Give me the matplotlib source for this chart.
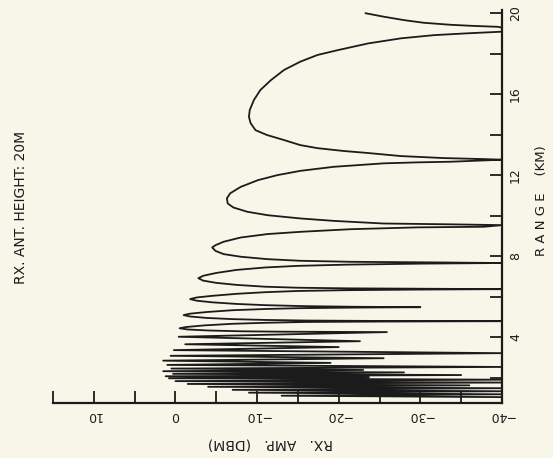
import matplotlib
matplotlib.use("Agg")
import matplotlib.pyplot as plt

# ---------------- data ----------------
# traced outline of the wide lobes, range in km, amplitude in dBm (top of chart downward)
trace_range = [19.99, 19.82, 19.65, 19.52, 19.42, 19.37, 19.32, 19.28,
               19.08, 19.0, 18.91, 18.75, 18.50, 18.17, 17.93, 17.60, 17.19, 16.69, 16.20,
               15.70, 15.21, 14.88, 14.57, 14.22, 13.98, 13.73, 13.48, 13.33, 13.19,
               13.09, 12.94, 12.84, 12.79, 12.76,
               12.66, 12.63, 12.58, 12.41, 12.21, 12.0, 11.75, 11.42, 11.10, 10.85,
               10.60, 10.40, 10.19, 10.02, 9.86, 9.74, 9.61, 9.57, 9.53,
               9.45, 9.42, 9.33, 9.20, 9.09, 8.92, 8.71, 8.54, 8.43, 8.26,
               8.10, 7.97, 7.85, 7.77, 7.72, 7.69, 7.66,
               7.63, 7.58, 7.52, 7.44, 7.32, 7.17, 7.03, 6.91, 6.79, 6.68,
               6.58, 6.49, 6.44, 6.41, 6.39, 6.37,
               6.35, 6.32, 6.28, 6.22, 6.14, 6.04, 5.96, 5.88, 5.80, 5.72,
               5.64, 5.58, 5.53, 5.50, 5.48,
               5.46, 5.43, 5.39, 5.33, 5.24, 5.16, 5.09, 5.02, 4.95, 4.89,
               4.85, 4.82, 4.80, 4.79,
               4.77, 4.75, 4.71, 4.66, 4.58, 4.50, 4.44, 4.38, 4.33, 4.29,
               4.27, 4.26, 4.25]
trace_amp = [-23.3, -25.5, -28.0, -30.4, -33.7, -36.2, -39.5, -40.0,
             -40.0, -35.8, -31.7, -27.6, -23.6, -19.9, -17.4, -15.3, -13.3, -11.7, -10.4,
             -9.6, -9.1, -9.0, -9.2, -9.8, -11.2, -13.3, -15.3, -17.4, -20.6,
             -23.6, -27.6, -32.9, -37.8, -40.0,
             -33.7, -29.7, -25.5, -19.4, -15.3, -12.5, -10.1, -8.0, -6.7, -6.3,
             -6.4, -7.1, -8.8, -11.3, -15.3, -19.4, -25.5, -33.7, -40.0,
             -37.8, -29.7, -21.5, -15.3, -11.3, -8.0, -5.9, -4.9, -4.5, -4.9,
             -5.9, -8.0, -11.3, -15.3, -21.5, -31.7, -40.0,
             -30.0, -21.0, -15.0, -11.0, -7.5, -5.0, -3.4, -2.8, -3.4, -5.0,
             -7.5, -11.0, -15.0, -21.0, -30.0, -40.0,
             -30.0, -21.0, -15.0, -11.0, -7.5, -4.5, -2.6, -1.8, -2.6, -4.5,
             -7.5, -11.0, -16.0, -22.0, -30.0,
             -22.0, -15.0, -11.0, -7.0, -3.8, -1.8, -1.0, -1.8, -3.8, -7.0,
             -11.0, -16.0, -25.0, -40.0,
             -25.0, -16.0, -11.0, -7.0, -3.5, -1.3, -0.5, -1.5, -4.0, -8.0,
             -13.0, -19.0, -25.9]

# dense part near the transmitter: lobe peaks and the nulls that follow them
peak_range = [4.02, 3.65, 3.36, 3.08, 2.84, 2.63, 2.45, 2.32, 2.19, 2.07,
              1.97, 1.83, 1.69, 1.55, 1.40, 1.26, 1.11]
peak_amp = [-0.4, -1.2, 0.2, 0.6, 1.5, 1.0, 0.5, 1.5, 0.3, 1.2,
            0.8, 0.0, -1.5, -4.0, -7.0, -9.0, -13.0]
null_range = [3.80, 3.51, 3.21, 2.96, 2.73, 2.53, 2.38, 2.26, 2.13, 2.02,
              1.90, 1.76, 1.62, 1.48, 1.33, 1.18, 1.04]
null_amp = [-22.6, -20.0, -40.0, -25.5, -19.0, -40.0, -23.0, -28.0, -35.0, -23.7,
            -40.0, -40.0, -36.0, -40.0, -40.0, -40.0, -40.0]

amp_ticks = [15, 10, 5, 0, -5, -10, -15, -20, -25, -30, -35, -40]
amp_labels = ["", "10", "", "0", "", "\u221210", "", "\u221220", "", "\u221230", "", "\u221240"]
range_ticks = [2, 4, 6, 8, 10, 12, 14, 16, 18, 20]
range_labels = ["", "4", "", "8", "", "12", "", "16", "", "20"]

# ---------------- assemble the curve ----------------
curve_r = list(trace_range)
curve_a = list(trace_amp)
for pr, pa, nr, na in zip(peak_range, peak_amp, null_range, null_amp):
    curve_r += [pr, nr]
    curve_a += [pa, na]

# ---------------- drawing ----------------
bg = "#f7f6e9"
ink = "#1b1b1b"
plt.rcParams["font.family"] = ["DejaVu Sans"]

fig = plt.figure(figsize=(5.53, 4.58), dpi=100, facecolor=bg)
ax = fig.add_axes([53 / 553, 55 / 458, (502 - 53) / 553, (403 - 10) / 458])
ax.set_facecolor(bg)

ax.plot(curve_a, curve_r, color=ink, lw=1.3)

ax.set_xlim(15, -40)
ax.set_ylim(0.75, 20.15)

for s in ("top", "left"):
    ax.spines[s].set_visible(False)
for s in ("right", "bottom"):
    ax.spines[s].set_linewidth(1.6)
    ax.spines[s].set_color(ink)

ax.yaxis.tick_right()
ax.set_xticks(amp_ticks)
ax.set_xticklabels(amp_labels, rotation=180, fontsize=9, color=ink)
ax.set_yticks(range_ticks)
ax.set_yticklabels(range_labels, rotation=90, fontsize=9, color=ink, va="center")
ax.tick_params(axis="x", direction="in", length=9, width=1.3, color=ink, pad=4)
ax.tick_params(axis="y", direction="in", length=9, width=1.3, color=ink, pad=5,
               left=False, right=True)

fig.text(21 / 553, 1 - 207 / 458, "RX. ANT. HEIGHT: 20M", rotation=90,
         ha="center", va="center", fontsize=10, color=ink)
fig.text(542 / 553, 1 - 201 / 458, "R A N G E    (KM)", rotation=90,
         ha="center", va="center", fontsize=9.5, color=ink)
fig.text(270 / 553, 1 - 444 / 458, "RX.   AMP.   (DBM)", rotation=180,
         ha="center", va="center", fontsize=10, color=ink)

fig.savefig("out.png", dpi=100, facecolor=bg)
